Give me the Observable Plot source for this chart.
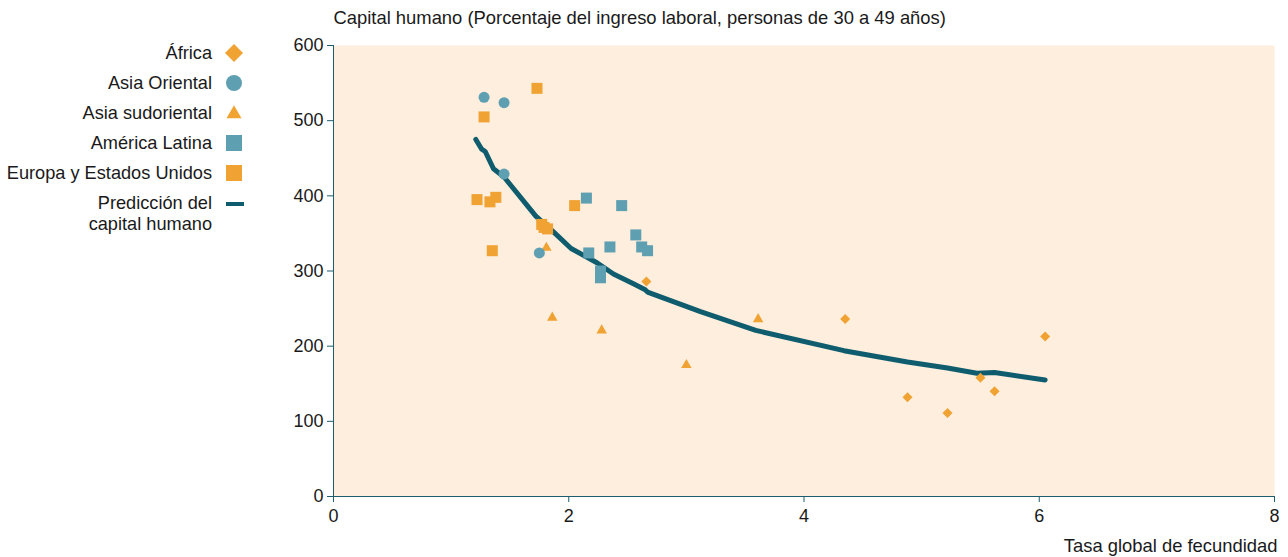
<!DOCTYPE html>
<html><head><meta charset="utf-8">
<script src="https://cdn.jsdelivr.net/npm/d3@7"></script>
<script src="https://cdn.jsdelivr.net/npm/@observablehq/plot@0.6"></script>
<style>
body{margin:0;background:#fff;}
#wrap{position:relative;width:1288px;height:557px;}
#legend{position:absolute;left:0;top:0;}
</style></head><body><div id="wrap"></div>
<script>
// ---- data ----
const seriesNames = ["África", "Asia Oriental", "Asia sudoriental", "América Latina", "Europa y Estados Unidos"];
const lineName = ["Predicción del", "capital humano"];

const africaX = [2.66, 4.35, 6.05, 5.50, 5.62, 4.88, 5.22];
const africaY = [286, 236, 213, 158, 140, 132, 111];

const eastAsiaX = [1.28, 1.45, 1.45, 1.75];
const eastAsiaY = [531, 524, 429, 324];

const seAsiaX = [1.81, 1.86, 2.28, 3.00, 3.61];
const seAsiaY = [331, 238, 221, 175, 236];

const latamX = [2.15, 2.45, 2.57, 2.35, 2.62, 2.67, 2.17, 2.27, 2.27];
const latamY = [397, 387, 348, 332, 332, 327, 324, 300, 291];

const europeX = [1.73, 1.28, 1.22, 1.33, 1.38, 1.35, 1.77, 1.79, 1.82, 2.05];
const europeY = [543, 505, 395, 392, 398, 327, 362, 358, 356, 387];

const predX = [1.21, 1.26, 1.29, 1.36, 1.45, 1.72, 1.87, 2.02, 2.24, 2.38, 2.55, 2.65, 2.67, 3.12, 3.59, 4.34, 4.88, 5.22, 5.47, 5.62, 6.05];
const predY = [475, 462, 459, 436, 425, 373, 352, 330, 311, 296, 283, 275, 272, 246, 221, 194, 179, 171, 164, 165, 155];

const xTicks = [0, 2, 4, 6, 8];
const yTicks = [0, 100, 200, 300, 400, 500, 600];
const titleText = "Capital humano (Porcentaje del ingreso laboral, personas de 30 a 49 años)";
const xLabelText = "Tasa global de fecundidad";

// ---- style ----
const orange = "#f0a232";
const teal = "#5f9fb2";
const lineColor = "#0e5c6e";
const axisColor = "#1d5d6d";
const bg = "#fdeedd";
const font = "'Liberation Sans', Arial, sans-serif";

const toRows = (xs, ys) => xs.map((x, i) => ({x, y: ys[i]}));
const pred = toRows(predX, predY);

const plot = Plot.plot({
  width: 1288, height: 557,
  marginLeft: 333, marginRight: 14, marginTop: 45, marginBottom: 61,
  style: {fontFamily: font, fontSize: "18px", color: "#1a1a1a", background: "transparent", overflow: "visible"},
  x: {domain: [0, 8]},
  y: {domain: [0, 600]},
  marks: [
    Plot.frame({fill: bg, stroke: "none"}),
    Plot.axisX({ticks: xTicks, tickSize: 6, tickPadding: 7, stroke: axisColor, fill: "#1a1a1a", label: null}),
    Plot.axisY({ticks: yTicks, tickSize: 6, tickPadding: 4, stroke: axisColor, fill: "#1a1a1a", label: null}),
    Plot.ruleX([0], {stroke: axisColor}),
    Plot.ruleY([0], {stroke: axisColor}),
    Plot.line(pred, {x: "x", y: "y", stroke: lineColor, strokeWidth: 5, strokeLinecap: "round", strokeLinejoin: "round"}),
    Plot.dot(toRows(africaX, africaY), {x: "x", y: "y", symbol: "diamond2", r: 4.5, fill: orange}),
    Plot.dot(toRows(seAsiaX, seAsiaY), {x: "x", y: "y", symbol: "triangle2", r: 5, fill: orange}),
    Plot.dot(toRows(europeX, europeY), {x: "x", y: "y", symbol: "square2", r: 7, fill: orange}),
    Plot.dot(toRows(latamX, latamY), {x: "x", y: "y", symbol: "square2", r: 7, fill: teal}),
    Plot.dot(toRows(eastAsiaX, eastAsiaY), {x: "x", y: "y", symbol: "circle", r: 5.5, fill: teal}),
    Plot.text([titleText], {text: d => d, frameAnchor: "top-left", dy: -27, lineAnchor: "middle", textAnchor: "start", fill: "#1a1a1a", fontSize: 18.4}),
    Plot.text([xLabelText], {text: d => d, frameAnchor: "bottom-right", dy: 50, dx: 3, lineAnchor: "middle", textAnchor: "end", fill: "#1a1a1a", fontSize: 18.4})
  ]
});
const wrap = document.getElementById("wrap");
wrap.appendChild(plot);

// ---- legend ----
const legendSymbols = [
  {type: d3.symbolDiamond2, size: 206, fill: orange},
  {type: d3.symbolCircle, size: 201, fill: teal},
  {type: d3.symbolTriangle2, size: 161, fill: orange},
  {type: d3.symbolSquare2, size: 326, fill: teal},
  {type: d3.symbolSquare2, size: 326, fill: orange}
];
const lg = d3.create("svg").attr("id", "legend").attr("width", 260).attr("height", 240)
  .style("font-family", font).style("font-size", "18.2px");
seriesNames.forEach((name, i) => {
  const cy = 53 + i * 30;
  lg.append("text").attr("x", 212).attr("y", cy).attr("dy", "0.35em").attr("text-anchor", "end")
    .attr("fill", "#1a1a1a").text(name);
  const s = legendSymbols[i];
  lg.append("path").attr("transform", `translate(234,${cy + (i === 2 ? 1 : 0)})`)
    .attr("d", d3.symbol(s.type, s.size)()).attr("fill", s.fill);
});
lineName.forEach((t, j) => {
  lg.append("text").attr("x", 212).attr("y", 203 + j * 21).attr("dy", "0.35em").attr("text-anchor", "end")
    .attr("fill", "#1a1a1a").text(t);
});
lg.append("line").attr("x1", 226).attr("x2", 244).attr("y1", 204).attr("y2", 204)
  .attr("stroke", lineColor).attr("stroke-width", 4);
wrap.appendChild(lg.node());
</script>
</body></html>
